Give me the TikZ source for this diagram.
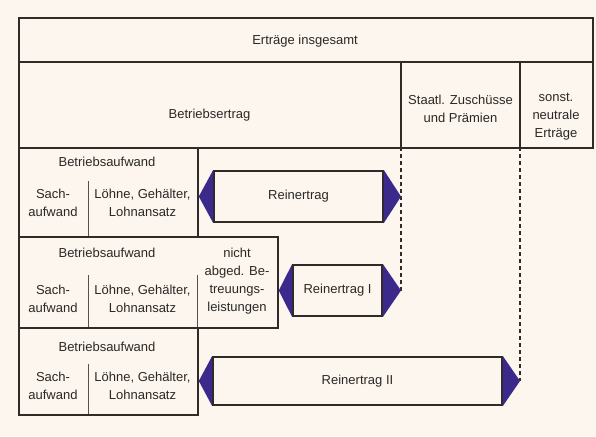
\documentclass[tikz,border=0pt]{standalone}
\usepackage{fontspec}
\setmainfont{Liberation Sans}
\definecolor{bg}{HTML}{FCF6EE}
\definecolor{ln}{HTML}{2F2B28}
\definecolor{sepc}{HTML}{55504B}
\definecolor{tri}{HTML}{3B2A8C}
\definecolor{tx}{HTML}{2A2826}
\begin{document}
\begin{tikzpicture}[x=1pt,y=-1pt,
  frame/.style={draw=ln, line width=1.8pt, fill=bg},
  boxst/.style={draw=ln, line width=1.8pt, fill=bg, rectangle, inner sep=0pt, anchor=north west},
  rbox/.style={draw=ln, line width=1.8pt, fill=bg, rectangle, inner sep=0pt, text=tx, font=\fontsize{13}{18}\selectfont},
  sepline/.style={draw=sepc, line width=1pt},
  lbl/.style={text=tx, font=\fontsize{13}{18}\selectfont, align=center, inner sep=0pt},
  dashline/.style={draw=ln, line width=1.1pt, dash pattern=on 4pt off 3pt},
  tip/.style={fill=tri}]
\useasboundingbox (0,0) rectangle (596,436);
\fill[bg] (0,0) rectangle (596,436);

% top table
\node[boxst, minimum width=574pt, minimum height=130pt] (frame) at (18,17) {};
\draw[frame, fill=none] (18,62) -- (592,62);
\coordinate (v1t) at (401,62);
\coordinate (v1b) at (401,147);
\coordinate (v2t) at (520,62);
\coordinate (v2b) at (520,147);
\draw[line width=1.3pt, draw=ln] (v1t) -- (v1b);
\draw[line width=1.3pt, draw=ln] (v2t) -- (v2b);
\node[lbl] (tot) at (305,41) {Erträge insgesamt};
\node[lbl] (be) at (209.5,115) {Betriebsertrag};
\node[lbl] (sz) at (460.5,109) {Staatl. Zuschüsse\\und Prämien};
\node[lbl] (sn) at (556,117) {sonst.\\neutrale\\Erträge};

% dashed guide lines
\coordinate (d1b) at (401,290.5);
\coordinate (d2b) at (520,381);
\draw[dashline] (v1b) -- (d1b);
\draw[dashline] (v2b) -- (d2b);

% row 3
\node[boxst, minimum width=179pt, minimum height=89pt] (ba1) at (18,147) {};
\node[lbl] (ba1t) at (107,162) {Betriebsaufwand};
\node[lbl] (s1) at (53,203) {Sach-\\aufwand};
\node[lbl] (l1) at (142.5,203) {Löhne, Gehälter,\\Lohnansatz};
\coordinate (c1t) at (88,181);
\coordinate (c1b) at (88,236);
\draw[sepline] (c1t) -- (c1b);
\node[rbox, minimum width=169pt, minimum height=51pt] (r1) at (298.5,196.5) {Reinertrag};
\fill[tip] (r1.north west) -- (ba1.east |- r1.west) -- (r1.south west) -- cycle;
\fill[tip] (r1.north east) -- (v1b |- r1.east) -- (r1.south east) -- cycle;

% row 4
\node[boxst, minimum width=259pt, minimum height=91pt] (ba2) at (18,236) {};
\node[lbl] (ba2t) at (107,253) {Betriebsaufwand};
\node[lbl] (s2) at (53,299) {Sach-\\aufwand};
\node[lbl] (l2) at (142.5,299) {Löhne, Gehälter,\\Lohnansatz};
\node[lbl] (nb) at (237,281) {nicht\\abged. Be-\\treuungs-\\leistungen};
\coordinate (c2t) at (88,275);
\coordinate (c2b) at (88,327);
\coordinate (c3t) at (197,275);
\coordinate (c3b) at (197,327);
\draw[sepline] (c2t) -- (c2b);
\draw[sepline] (c3t) -- (c3b);
\node[rbox, minimum width=89pt, minimum height=51pt] (r2) at (337.5,290.5) {Reinertrag I};
\fill[tip] (r2.north west) -- (ba2.east |- r2.west) -- (r2.south west) -- cycle;
\fill[tip] (r2.north east) -- (d1b) -- (r2.south east) -- cycle;

% row 5
\node[boxst, minimum width=179pt, minimum height=87pt] (ba3) at (18,327) {};
\node[lbl] (ba3t) at (107,347) {Betriebsaufwand};
\node[lbl] (s3) at (53,386) {Sach-\\aufwand};
\node[lbl] (l3) at (142.5,386) {Löhne, Gehälter,\\Lohnansatz};
\coordinate (c4t) at (88,364);
\coordinate (c4b) at (88,414);
\draw[sepline] (c4t) -- (c4b);
\node[rbox, minimum width=289pt, minimum height=48pt] (r3) at (357.5,381) {Reinertrag II};
\fill[tip] (r3.north west) -- (ba3.east |- r3.west) -- (r3.south west) -- cycle;
\fill[tip] (r3.north east) -- (d2b) -- (r3.south east) -- cycle;
\end{tikzpicture}
\end{document}
